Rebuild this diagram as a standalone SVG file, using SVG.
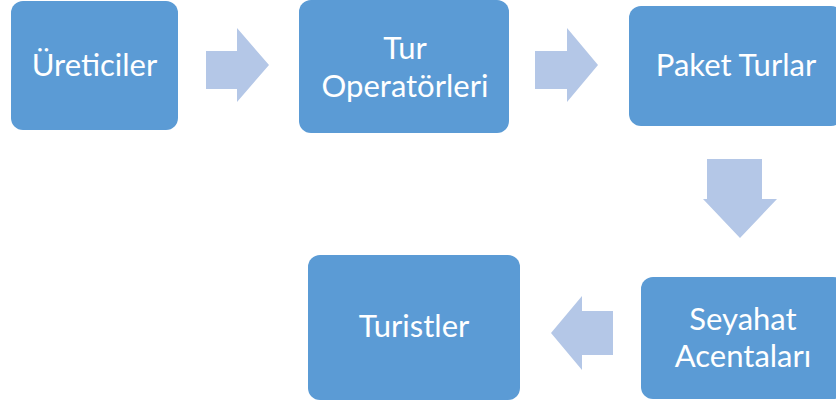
<svg xmlns="http://www.w3.org/2000/svg" width="836" height="403" viewBox="0 0 836 403">
  <style>
    .box { fill: #5B9BD5; }
    .lbl { fill: #FFFFFF; font-family: Lato, "Noto Sans", "Liberation Sans", sans-serif; font-size: 31px; text-anchor: middle; }
    .flow { fill: #B4C7E7; }
  </style>
  <rect width="836" height="403" fill="#FFFFFF"/>

  <!-- block arrows between stages -->
  <g id="connectors">
    <polygon class="flow" points="206,51 237,51 237,28 269,65 237,102 237,89 206,89"/>
    <polygon class="flow" points="535,51 567,51 567,28 598,65 567,102 567,89 535,89"/>
    <polygon class="flow" points="707,159 762,159 762,199 777,199 740,238 703,199 707,199"/>
    <polygon class="flow" points="613,311 582,311 582,296 551,333 582,370 582,355 613,355"/>
  </g>

  <g id="ureticiler">
    <rect class="box" x="11" y="1" width="167" height="129" rx="12"/>
    <text class="lbl" x="94.5" y="76">Üreticiler</text>
  </g>

  <g id="tur-operatorleri">
    <rect class="box" x="299" y="0" width="210" height="133" rx="12"/>
    <text class="lbl" x="405" y="59">Tur</text>
    <text class="lbl" x="405" y="97">Operatörleri</text>
  </g>

  <g id="paket-turlar">
    <rect class="box" x="629" y="6" width="214" height="120" rx="12"/>
    <text class="lbl" x="736" y="76">Paket Turlar</text>
  </g>

  <g id="seyahat-acentalari">
    <rect class="box" x="641" y="277" width="204" height="122" rx="12"/>
    <text class="lbl" x="743" y="330">Seyahat</text>
    <text class="lbl" x="743" y="367">Acentaları</text>
  </g>

  <g id="turistler">
    <rect class="box" x="308" y="255" width="212" height="145" rx="12"/>
    <text class="lbl" x="414" y="337">Turistler</text>
  </g>
</svg>
